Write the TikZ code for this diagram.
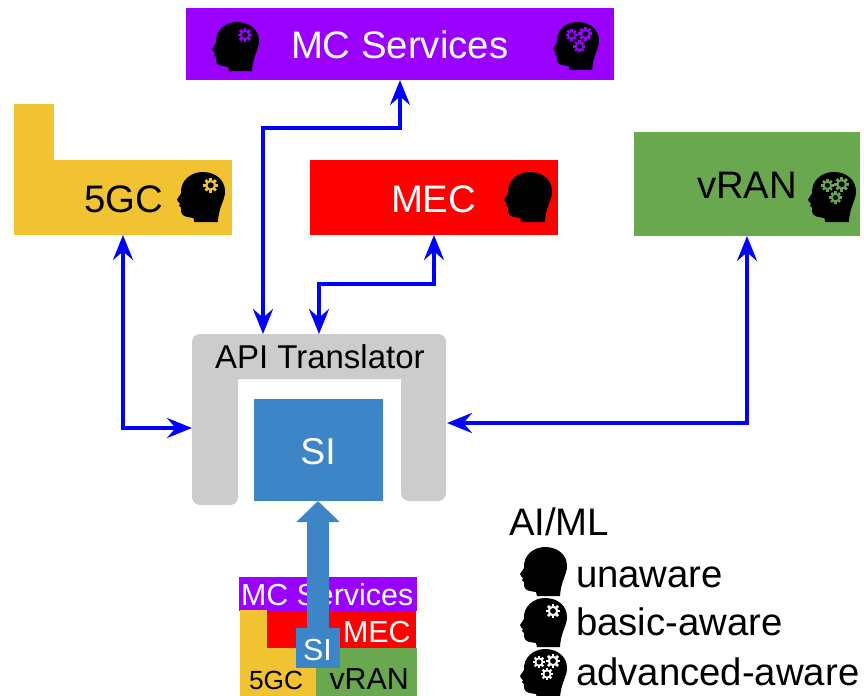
\documentclass[tikz,border=0pt]{standalone}
\usepackage{fontspec}
\setmainfont{Liberation Sans}
\usetikzlibrary{arrows.meta,calc}
\definecolor{mcpurple}{HTML}{9900FF}
\definecolor{coreyellow}{HTML}{F1C232}
\definecolor{ranGreen}{HTML}{6AA84F}
\definecolor{siblue}{HTML}{3D85C6}
\definecolor{apigrey}{HTML}{CCCCCC}
\definecolor{linkblue}{HTML}{0000FF}
\newcommand{\gearmark}[4]{% x y r colour
  \fill[#4] (#1,#2) circle ({0.76*#3});
  \foreach \ang in {0,45,...,315}{
    \fill[#4,shift={(#1,#2)},rotate=\ang] ({-0.2*#3},0) rectangle ({0.2*#3},{1.02*#3});
  }
  \fill[black] (#1,#2) circle ({0.42*#3});
}
\newcommand{\headmark}[4]{% x y w level colour
  \begin{scope}[shift={(#1,#2)},scale=#3/47]
    \fill[black] (0,27) -- (4,21) .. controls (3,8) and (14,0) .. (25,0)
      .. controls (38,0) and (47,8) .. (47,19)
      .. controls (47,28) and (41,33) .. (40,49) -- (17,49) -- (16,45)
      .. controls (10,44) and (5,44) .. (4,39) -- (4,35) -- (2,33) -- (3,31) -- (1,29) -- cycle;
    \ifcase#4\relax
    \or \gearmark{33}{13}{7}{headgear}
    \or \gearmark{19}{13}{6}{headgear}\gearmark{33}{12}{7}{headgear}\gearmark{27}{25}{6}{headgear}
    \fi
  \end{scope}
}
\tikzset{
  box/.style={rectangle,inner sep=0pt,outer sep=0pt,draw=none},
  big/.style={inner sep=0pt,outer sep=0pt,anchor=base west,font=\fontsize{28.75}{30}\selectfont},
  small/.style={inner sep=0pt,outer sep=0pt,anchor=base west,font=\fontsize{22.8}{24}\selectfont},
  link/.style={draw=linkblue,line width=3pt,line join=miter,
    {Stealth[length=18.75pt,width=15pt,inset=6.5pt]}-{Stealth[length=18.75pt,width=15pt,inset=6.5pt]}},
  feed/.style={draw=siblue,line width=16.5pt,-{Triangle[length=15.75pt,width=31.5pt]}}
}
\begin{document}
\begin{tikzpicture}[x=0.75pt,y=-0.75pt]
\clip (0,0) rectangle (864,696);
\fill[white] (0,0) rectangle (864,696);
% main boxes
\node[box,fill=mcpurple,minimum width=321pt,minimum height=54pt] (mc) at (400,44) {};
\fill[coreyellow] (14,104) rectangle (54,170);
\node[box,fill=coreyellow,minimum width=163.5pt,minimum height=56.25pt] (core) at (123,197.5) {};
\node[box,fill=red,minimum width=186pt,minimum height=56.25pt] (mec) at (434,197.5) {};
\node[box,fill=ranGreen,minimum width=169.5pt,minimum height=78pt] (ran) at (747,184) {};
% API translator
\fill[apigrey,rounded corners=6pt] (192,505) -- (192,334) -- (446,334) -- (446,501) -- (401,501) -- (401,379) [sharp corners] -- (401,379) -- (238,379) [rounded corners=6pt] -- (238,505) -- cycle;
\node[box,fill=siblue,minimum width=96.75pt,minimum height=76.5pt] (si) at (318.5,450) {};
% labels
\node[big,text=white] (mclabel) at (291,58) {MC Services};
\node[big,text=black] (corelabel) at (84,212) {5GC};
\node[big,text=white] (meclabel) at (391,212) {MEC};
\node[big,text=black] (ranlabel) at (697,198) {vRAN};
\node[inner sep=0pt,outer sep=0pt,anchor=base west,font=\fontsize{24.75}{26}\selectfont] (api) at (215,368) {API Translator};
\node[inner sep=0pt,outer sep=0pt,anchor=base,text=white,font=\fontsize{28}{30}\selectfont] (silabel) at (318,464) {SI};
% heads
\colorlet{headgear}{mcpurple}
\headmark{212}{22}{47}{1}
\headmark{553}{22}{46}{2}
\colorlet{headgear}{coreyellow}
\headmark{177}{172}{48}{1}
\headmark{504}{172}{48}{0}
\colorlet{headgear}{ranGreen}
\headmark{808}{172}{48}{2}
% connectors
\coordinate (apitopa) at (263,334);
\coordinate (apitopb) at (319,334);
\coordinate (apileft) at (192,428);
\coordinate (apiright) at (447,423);
\coordinate (bendmc) at (263,128);
\coordinate (bendmec) at (319,284);
\draw[link] (mc.south) |- (bendmc) -- (apitopa);
\draw[link] (mec.south) |- (bendmec) -- (apitopb);
\draw[link] (core.south) |- (apileft);
\draw[link] (ran.south) |- (apiright);
% small stack
\node[box,fill=mcpurple,minimum width=133.5pt,minimum height=25.5pt] (smc) at (328,594) {};
\node[box,fill=red,minimum width=132pt,minimum height=28.5pt] (smec) at (328,629.5) {};
\fill[coreyellow] (240,610) rectangle (267,650);
\node[box,fill=coreyellow,minimum width=57pt,minimum height=36pt] (score) at (278,672) {};
\node[box,fill=ranGreen,minimum width=75.75pt,minimum height=36pt] (sran) at (366.5,672) {};
\node[small,text=white] (smclabel) at (241,605) {MC Services};
\node[small,text=white] (smeclabel) at (343,642) {MEC};
\node[small,font=\fontsize{19.7}{22}\selectfont] (scorelabel) at (249,689) {5GC};
\node[small] (sranlabel) at (329.5,689) {vRAN};
\node[box,fill=siblue,minimum width=33pt,minimum height=30pt] (ssi) at (318,648) {};
\node[small,text=white] (ssilabel) at (303,660) {SI};
\draw[feed] (ssi.north) -- (si.south -| ssi.north);
% legend
\colorlet{headgear}{white}
\node[big] (aiml) at (509,535) {AI/ML};
\headmark{520}{547}{47}{0}
\node[big] (unaware) at (576,587) {unaware};
\headmark{520}{598}{47}{1}
\node[big] (basic) at (576,635) {basic-aware};
\headmark{520}{649}{47}{2}
\node[big] (advanced) at (576,685) {advanced-aware};
\end{tikzpicture}
\end{document}
